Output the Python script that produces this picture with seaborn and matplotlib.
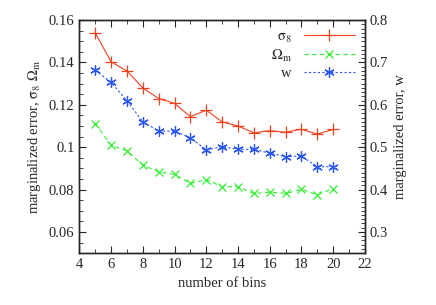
import numpy as np
import pandas as pd
import matplotlib
matplotlib.use("Agg")
import matplotlib.pyplot as plt
from matplotlib.ticker import MultipleLocator
import seaborn as sns

# data
nbins = [5, 6, 7, 8, 9, 10, 11, 12, 13, 14, 15, 16, 17, 18, 19, 20]
sigma8 = [0.154, 0.1403, 0.136, 0.128, 0.123, 0.1207, 0.1144, 0.1175,
          0.112, 0.110, 0.1068, 0.1078, 0.1071, 0.1085, 0.1062, 0.1084]
omega_m = [0.1112, 0.101, 0.0982, 0.0916, 0.0884, 0.0872, 0.0829, 0.0847,
           0.0814, 0.0813, 0.0782, 0.0788, 0.0782, 0.0801, 0.0776, 0.0805]
w_err = [0.682, 0.653, 0.610, 0.560, 0.538, 0.538, 0.522, 0.494,
         0.501, 0.495, 0.495, 0.486, 0.478, 0.479, 0.454, 0.454]

sns.set_style("ticks")
plt.rcParams['font.family'] = ['Liberation Serif', 'DejaVu Serif']
plt.rcParams['mathtext.fontset'] = 'stix'
plt.rcParams['font.size'] = 10.5
plt.rcParams['xtick.direction'] = 'in'
plt.rcParams['ytick.direction'] = 'in'

c_red = '#f0401e'
c_green = '#33ee33'
c_blue = '#2a55f0'

df = pd.DataFrame({'bins': nbins, 's8': sigma8, 'om': omega_m, 'w': w_err})

fig = plt.figure(figsize=(4.36, 3.05), dpi=100)
ax = fig.add_axes([0.182, 0.170, 0.655, 0.764])
ax2 = ax.twinx()

sns.lineplot(data=df, x='bins', y='s8', ax=ax, color=c_red, lw=0.8,
             marker='+', markersize=8, mew=0.9, mec=c_red,
             label=r'$\mathrm{\sigma_8}$')
sns.lineplot(data=df, x='bins', y='om', ax=ax, color=c_green, lw=0.8,
             marker='x', markersize=6, mew=0.9, mec=c_green,
             linestyle=(0, (4, 3)), label=r'$\mathrm{\Omega_m}$')
sns.lineplot(data=df, x='bins', y='w', ax=ax2, color=c_blue, lw=0.8,
             marker=(6, 2, 0), markersize=7.5, mew=0.9, mec=c_blue,
             linestyle=(0, (2, 2)), label='w')

ax.set_xlim(4, 22)
ax.set_ylim(0.05, 0.16)
ax2.set_ylim(0.25, 0.8)

ax.xaxis.set_major_locator(MultipleLocator(2))
ax.xaxis.set_minor_locator(MultipleLocator(1))
ax.yaxis.set_minor_locator(MultipleLocator(0.005))
ax2.yaxis.set_minor_locator(MultipleLocator(0.01))

ax.set_yticks([0.06, 0.08, 0.1, 0.12, 0.14, 0.16])
ax.set_yticklabels(['0.06', '0.08', '0.1', '0.12', '0.14', '0.16'])
ax2.set_yticks([0.3, 0.4, 0.5, 0.6, 0.7, 0.8])

ax.tick_params(axis='x', which='both', top=True, bottom=True)
ax.tick_params(which='major', length=5, width=0.8)
ax.tick_params(which='minor', length=3, width=0.6)
ax2.tick_params(which='major', length=5, width=0.8)
ax2.tick_params(which='minor', length=3, width=0.6)
ax.tick_params(axis='y', right=False)

ax.set_xlabel('number of bins')
ax.set_ylabel(r'marginalized error, $\mathrm{\sigma_8}$ $\mathrm{\Omega_m}$')
ax2.set_ylabel('marginalized error, w')

for a in (ax, ax2):
    for s in a.spines.values():
        s.set_linewidth(1.0)

h1, l1 = ax.get_legend_handles_labels()
h2, l2 = ax2.get_legend_handles_labels()
ax2.get_legend().remove()
ax.legend(h1 + h2, l1 + l2, loc='upper right', frameon=False,
          markerfirst=False, handlelength=3.5, labelspacing=0.2,
          borderaxespad=0.3, fontsize=10.5)

fig.savefig('out.png', dpi=100)
